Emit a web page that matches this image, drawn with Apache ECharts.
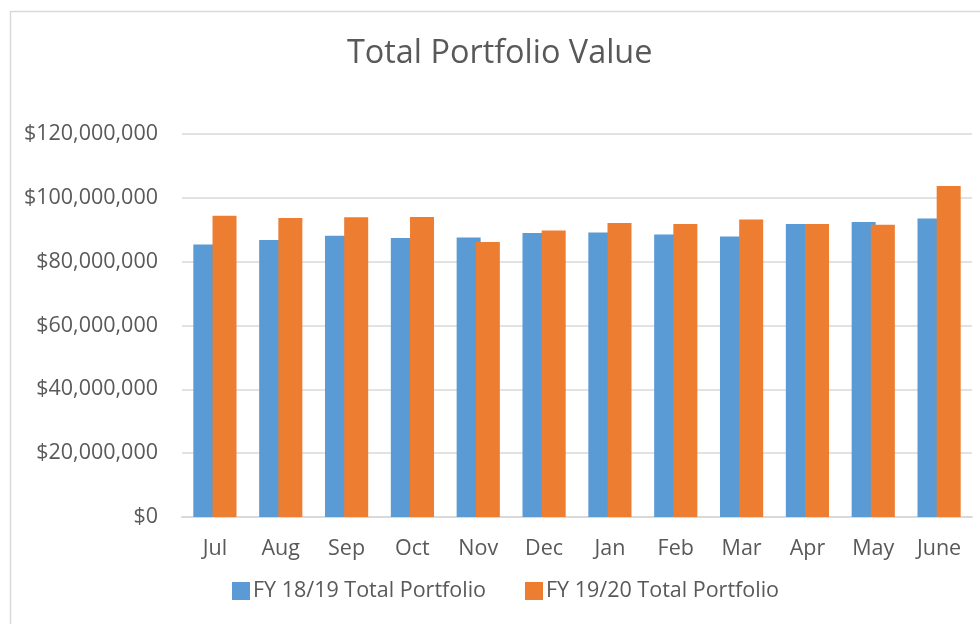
<!DOCTYPE html>
<html>
<head>
<meta charset="utf-8">
<script src="https://cdn.jsdelivr.net/npm/echarts@6/dist/echarts.min.js"></script>
<style>
  html, body { margin: 0; padding: 0; background: #fff; }
  #chart { width: 980px; height: 624px; }
</style>
</head>
<body>
<div id="chart"></div>
<script>
var months = ['Jul', 'Aug', 'Sep', 'Oct', 'Nov', 'Dec', 'Jan', 'Feb', 'Mar', 'Apr', 'May', 'June'];
var fy1819 = [85.4, 86.8, 88.1, 87.4, 87.6, 89.0, 89.1, 88.5, 87.9, 91.8, 92.4, 93.5];
var fy1920 = [94.4, 93.7, 93.9, 94.0, 86.2, 89.8, 92.1, 91.8, 93.2, 91.8, 91.6, 103.7];
var seriesNames = ['FY 18/19 Total Portfolio', 'FY 19/20 Total Portfolio'];

var myChart = echarts.init(document.getElementById('chart'));
var font = 'Open Sans';
var textColor = '#595959';

function toDollars(v) {
    return v.map(function (x) { return Math.round(x * 1000000); });
}

var option = {
    backgroundColor: '#fff',
    animation: false,
    textStyle: { fontFamily: font },
    graphic: [{
        type: 'rect',
        left: 8,
        top: 9,
        shape: { width: 1000, height: 700 },
        style: { fill: 'none', stroke: '#d9d9d9', lineWidth: 1.5 }
    }],
    title: {
        text: 'Total Portfolio Value',
        left: 342,
        top: 33,
        textStyle: { fontFamily: font, fontSize: 32.4, fontWeight: 'normal', color: textColor }
    },
    legend: {
        bottom: 17,
        left: 227,
        itemWidth: 18,
        itemHeight: 18,
        itemGap: 39,
        icon: 'rect',
        textStyle: { fontFamily: font, fontSize: 21.5, color: textColor, padding: [0, 0, 0, -2] },
        data: seriesNames
    },
    grid: { left: 182, right: 8, top: 134, bottom: 107 },
    xAxis: {
        type: 'category',
        data: months,
        axisLine: { lineStyle: { color: '#d9d9d9', width: 2 } },
        axisTick: { show: false },
        axisLabel: { color: textColor, fontSize: 21.5, fontFamily: font, margin: 21 }
    },
    yAxis: {
        type: 'value',
        min: 0,
        max: 120000000,
        interval: 20000000,
        axisLine: { show: false },
        axisTick: { show: false },
        splitLine: { lineStyle: { color: '#d9d9d9', width: 1.5 } },
        axisLabel: {
            color: textColor,
            fontSize: 21.5,
            fontFamily: font,
            margin: 24,
            formatter: function (v) { return '$' + v.toLocaleString('en-US'); }
        }
    },
    series: [
        {
            name: seriesNames[0],
            type: 'bar',
            data: toDollars(fy1819),
            barWidth: 24,
            barGap: '-20%',
            itemStyle: { color: '#5b9bd5' }
        },
        {
            name: seriesNames[1],
            type: 'bar',
            data: toDollars(fy1920),
            barWidth: 24,
            barGap: '-20%',
            itemStyle: { color: '#ed7d31' }
        }
    ]
};
myChart.setOption(option);
window.onresize = function () { myChart.resize(); };
</script>
</body>
</html>
